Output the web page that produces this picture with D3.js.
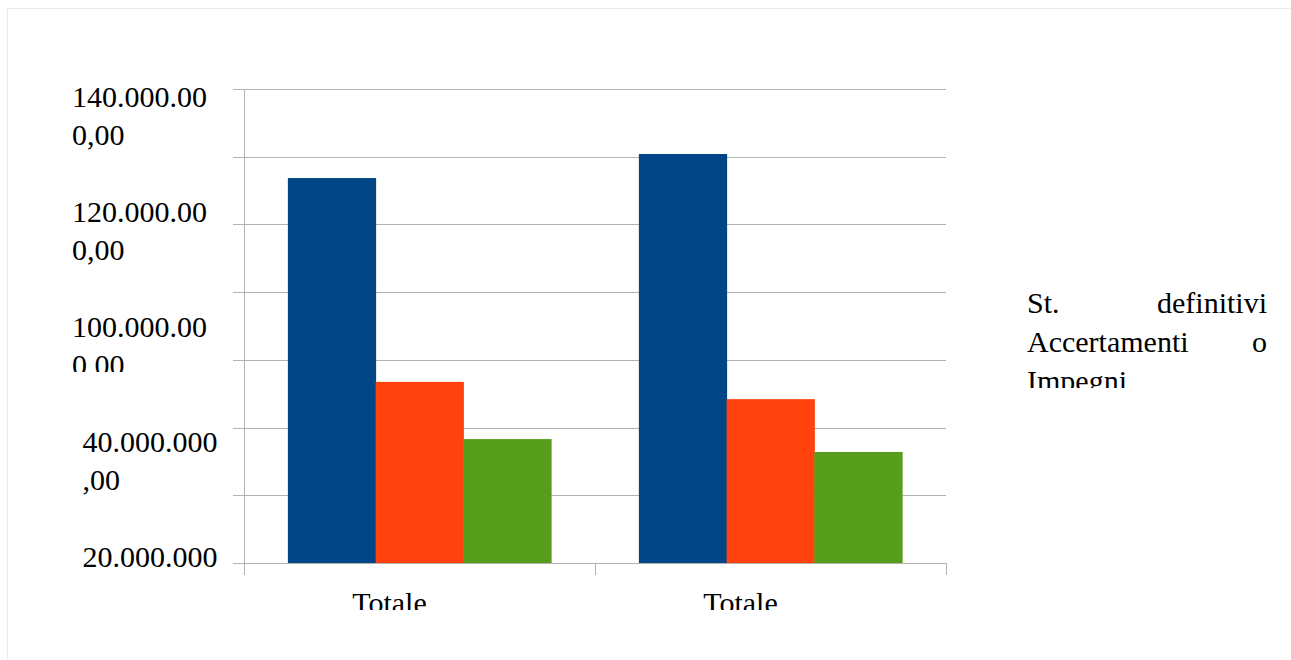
<!DOCTYPE html>
<html lang="it">
<head>
<meta charset="utf-8" />
<title>Totale</title>
<script src="https://d3js.org/d3.v7.min.js"></script>
<style>
    body { margin: 0; background: #fff; }
    svg { display: block; }
    text { font-family: "Liberation Serif", serif; font-size: 30px; fill: #000; }
</style>
</head>
<body>
<script>
// data
const categories = ["Totale", "Totale"];
const seriesNames = ["St. definitivi", "Accertamenti o Impegni"];
const stDefinitivi = [113.7e6, 120.8e6];
const accertamenti = [53.5e6, 48.4e6];
const terzaSerie = [36.6e6, 32.8e6];
const yTickValues = [0, 20e6, 40e6, 60e6, 80e6, 100e6, 120e6, 140e6];
// only these labels survived the original layout
const yTickLabels = ["140.000.000,00", "120.000.000,00", "100.000.000,00", "40.000.000,00", "20.000.000,00"];

const colors = ["#004586", "#ff420e", "#579d1c"];
const series = [stDefinitivi, accertamenti, terzaSerie];

const W = 1291, H = 660;
const plot = { left: 244, right: 946, top: 89, bottom: 563 };

const svg = d3.select("body").append("svg")
    .attr("width", W)
    .attr("height", H);

const defs = svg.append("defs");
// clip areas that mimic the cut off text of the original
const yclip = defs.append("clipPath").attr("id", "yclip");
yclip.append("rect").attr("x", 0).attr("y", 60).attr("width", 240).attr("height", 312);
yclip.append("rect").attr("x", 0).attr("y", 415).attr("width", 240).attr("height", 165);
defs.append("clipPath").attr("id", "xclip")
    .append("rect").attr("x", 0).attr("y", 575).attr("width", W).attr("height", 35);
defs.append("clipPath").attr("id", "legclip")
    .append("rect").attr("x", 1000).attr("y", 270).attr("width", 291).attr("height", 118);

// outer frame
svg.append("rect")
    .attr("x", 7.5).attr("y", 8.5)
    .attr("width", W).attr("height", H)
    .attr("fill", "none")
    .attr("stroke", "#ebebeb");

const y = d3.scaleLinear()
    .domain([0, 140e6])
    .range([plot.bottom, plot.top]);

const x0 = d3.scaleBand()
    .domain(d3.range(categories.length))
    .range([plot.left, plot.right])
    .padding(0);

const x1 = d3.scaleBand()
    .domain(d3.range(series.length))
    .range([0, x0.bandwidth()])
    .paddingInner(0)
    .paddingOuter(0.5);

// gridlines + left ticks
const grid = svg.append("g")
    .attr("transform", "translate(" + (plot.left - 11) + ",0)")
    .call(d3.axisLeft(y)
        .tickValues(yTickValues)
        .tickSize(-(plot.right - plot.left + 11))
        .tickFormat(""));
grid.select(".domain").remove();
grid.selectAll(".tick line")
    .attr("stroke", "#b3b3b3")
    .attr("shape-rendering", "crispEdges");

// bars
categories.forEach(function(c, i) {
    svg.append("g")
        .attr("transform", "translate(" + x0(i) + ",0)")
        .selectAll("rect")
        .data(series.map(function(s, k) { return { k: k, v: s[i] }; }))
        .enter()
        .append("rect")
        .attr("x", function(d) { return x1(d.k); })
        .attr("width", x1.bandwidth() + 0.5)
        .attr("y", function(d) { return y(d.v); })
        .attr("height", function(d) { return y(0) - y(d.v); })
        .attr("fill", function(d) { return colors[d.k]; });
});

// y axis line
svg.append("line")
    .attr("x1", plot.left + 0.5).attr("x2", plot.left + 0.5)
    .attr("y1", plot.top).attr("y2", plot.bottom + 12)
    .attr("stroke", "#b3b3b3");

// x axis line + ticks at the band edges
svg.append("line")
    .attr("x1", plot.left - 11).attr("x2", plot.right)
    .attr("y1", plot.bottom + 0.5).attr("y2", plot.bottom + 0.5)
    .attr("stroke", "#b3b3b3");
const edges = d3.range(categories.length).map(function(i) { return x0(i); }).concat([plot.right]);
svg.selectAll("line.xtick")
    .data(edges)
    .enter()
    .append("line")
    .attr("class", "xtick")
    .attr("x1", function(d) { return Math.round(d) + 0.5; })
    .attr("x2", function(d) { return Math.round(d) + 0.5; })
    .attr("y1", plot.bottom)
    .attr("y2", plot.bottom + 12)
    .attr("stroke", "#b3b3b3");

// category labels (sit a bit left of the band centre in the original)
svg.append("g").attr("clip-path", "url(#xclip)")
    .selectAll("text")
    .data(categories)
    .enter()
    .append("text")
    .attr("x", function(d, i) { return x0(i) + x0.bandwidth() / 2 - 30; })
    .attr("y", 613)
    .attr("text-anchor", "middle")
    .text(function(d) { return d; });

// y labels, wrapped every 10 characters like the original
const slot = d3.scalePoint().domain(yTickLabels).range([107, 567]);
const ylab = svg.append("g").attr("clip-path", "url(#yclip)");
const probe = svg.append("text").attr("x", -1000);
const fullW = yTickLabels.map(function(t) { probe.text(t); return probe.node().getComputedTextLength(); });
probe.remove();
const maxW = d3.max(fullW);
yTickLabels.forEach(function(t, i) {
    const lines = t.match(/.{1,10}/g);
    const lx = 72 + (maxW - fullW[i]) * 0.7;
    const tx = ylab.append("text")
        .attr("x", lx)
        .attr("y", slot(t));
    lines.forEach(function(l, j) {
        tx.append("tspan")
            .attr("x", lx)
            .attr("dy", j === 0 ? 0 : 38)
            .text(l);
    });
});

// legend: one justified paragraph
const legX = 1027, legW = 240;
const leg = svg.append("g").attr("clip-path", "url(#legclip)");
const words = seriesNames.join(" ").split(" ");
const wprobe = leg.append("text").attr("x", -1000);
const ww = words.map(function(w) { wprobe.text(w); return wprobe.node().getComputedTextLength(); });
wprobe.text("a a");
const spaceW = wprobe.node().getComputedTextLength();
wprobe.text("aa");
const sp = spaceW - wprobe.node().getComputedTextLength();
wprobe.remove();
const lines = [];
let cur = [], curW = 0;
words.forEach(function(w, i) {
    const add = cur.length ? sp + ww[i] : ww[i];
    if (cur.length && curW + add > legW) {
        lines.push(cur);
        cur = [i]; curW = ww[i];
    } else {
        cur.push(i); curW += add;
    }
});
if (cur.length) lines.push(cur);
lines.forEach(function(ln, li) {
    const last = li === lines.length - 1;
    const sum = d3.sum(ln, function(i) { return ww[i]; });
    const gap = (!last && ln.length > 1) ? (legW - sum) / (ln.length - 1) : sp;
    let px = legX;
    ln.forEach(function(i) {
        leg.append("text")
            .attr("x", px)
            .attr("y", 313 + li * 39)
            .text(words[i]);
        px += ww[i] + gap;
    });
});
</script>
</body>
</html>
